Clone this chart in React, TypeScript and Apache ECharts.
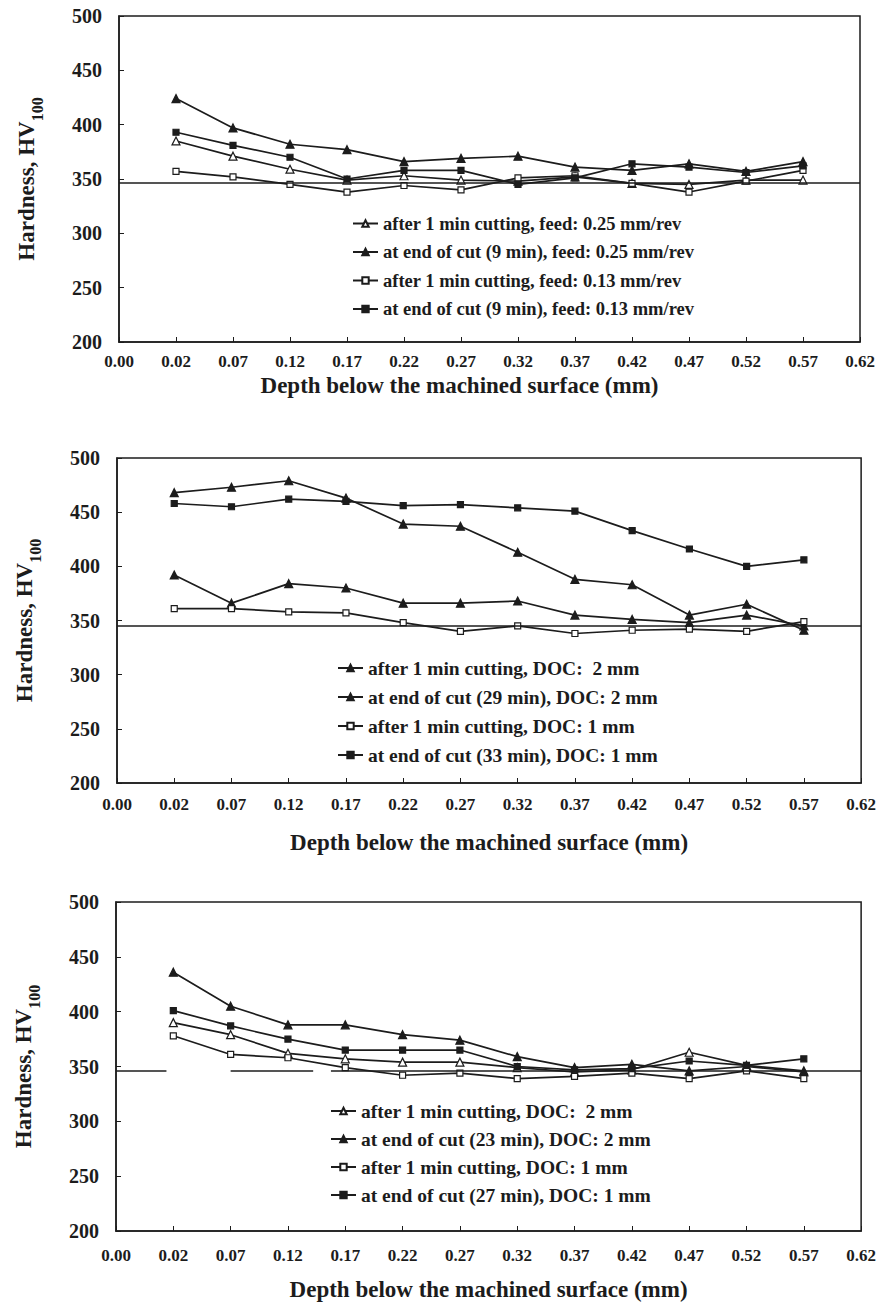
import React, { useEffect, useRef } from "react";
import * as echarts from "echarts";

// Category positions along the depth axis (evenly spaced, measured at 0.02 .. 0.57)
const depthLabels = ["0.00", "0.02", "0.07", "0.12", "0.17", "0.22", "0.27", "0.32", "0.37", "0.42", "0.47", "0.52", "0.57", "0.62"];
const hardnessTicks = [200, 250, 300, 350, 400, 450, 500];

// Panel 1: feed rate comparison
const feed025After1 = [385, 371, 359, 349, 353, 349, 348, 352, 346, 345, 349, 349];
const feed025End9 = [424, 397, 382, 377, 366, 369, 371, 361, 358, 364, 357, 366];
const feed013After1 = [357, 352, 345, 338, 344, 340, 351, 353, 346, 338, 348, 358];
const feed013End9 = [393, 381, 370, 350, 358, 358, 345, 351, 364, 361, 356, 362];

// Panel 2: depth of cut comparison (29 / 33 min)
const doc2After1A = [392, 366, 384, 380, 366, 366, 368, 355, 351, 348, 355, 345];
const doc2End29 = [468, 473, 479, 463, 439, 437, 413, 388, 383, 355, 365, 341];
const doc1After1A = [361, 361, 358, 357, 348, 340, 345, 338, 341, 342, 340, 349];
const doc1End33 = [458, 455, 462, 460, 456, 457, 454, 451, 433, 416, 400, 406];

// Panel 3: depth of cut comparison (23 / 27 min)
const doc2After1B = [390, 379, 362, 357, 354, 354, 349, 345, 347, 363, 351, 346];
const doc2End23 = [436, 405, 388, 388, 379, 374, 359, 349, 352, 346, 350, 345];
const doc1After1B = [378, 361, 358, 349, 342, 344, 339, 341, 344, 339, 346, 339];
const doc1End27 = [401, 387, 375, 365, 365, 365, 350, 347, 348, 355, 351, 357];

// Bulk hardness reference level per panel
const bulkHardness = [347, 345, 346];
// Visible pieces of the reference line in panel 3 (axis positions)
const panel3RefSegments = [[0, 0.88], [2.0, 3.44], [3.75, 13]];

const INK = "#1c1c1c";
const FONT = "'Liberation Serif', 'Times New Roman', serif";

type SeriesDef = { id: string; text: string; values: number[]; symbol: "triangle" | "rect"; filled: boolean };

const panels: { series: SeriesDef[] }[] = [
  {
    series: [
      { id: "p1a", text: "after 1 min cutting, feed: 0.25 mm/rev", values: feed025After1, symbol: "triangle", filled: false },
      { id: "p1b", text: "at end of cut (9 min), feed: 0.25 mm/rev", values: feed025End9, symbol: "triangle", filled: true },
      { id: "p1c", text: "after 1 min cutting, feed: 0.13 mm/rev", values: feed013After1, symbol: "rect", filled: false },
      { id: "p1d", text: "at end of cut (9 min), feed: 0.13 mm/rev", values: feed013End9, symbol: "rect", filled: true },
    ],
  },
  {
    series: [
      { id: "p2a", text: "after 1 min cutting, DOC:  2 mm", values: doc2After1A, symbol: "triangle", filled: true },
      { id: "p2b", text: "at end of cut (29 min), DOC: 2 mm", values: doc2End29, symbol: "triangle", filled: true },
      { id: "p2c", text: "after 1 min cutting, DOC: 1 mm", values: doc1After1A, symbol: "rect", filled: false },
      { id: "p2d", text: "at end of cut (33 min), DOC: 1 mm", values: doc1End33, symbol: "rect", filled: true },
    ],
  },
  {
    series: [
      { id: "p3a", text: "after 1 min cutting, DOC:  2 mm", values: doc2After1B, symbol: "triangle", filled: false },
      { id: "p3b", text: "at end of cut (23 min), DOC: 2 mm", values: doc2End23, symbol: "triangle", filled: true },
      { id: "p3c", text: "after 1 min cutting, DOC: 1 mm", values: doc1After1B, symbol: "rect", filled: false },
      { id: "p3d", text: "at end of cut (27 min), DOC: 1 mm", values: doc1End27, symbol: "rect", filled: true },
    ],
  },
];

const grids = [
  { left: 119, top: 16, width: 741, height: 326 },
  { left: 117, top: 458, width: 745, height: 325 },
  { left: 116, top: 902, width: 746, height: 329 },
];
const labelMargins = [11, 13, 16];
const nameGaps = [32, 48, 47];
// Horizontal nudge of each x-axis title (right padding shifts it left)
const namePadRight = [60, 0, 0];
const legendBoxes = [
  { left: 352, top: 214, itemGap: 9.5, fontSize: 18.5 },
  { left: 337, top: 658, itemGap: 9, fontSize: 19.5 },
  { left: 330, top: 1101, itemGap: 8, fontSize: 19.5 },
];

function buildOption() {
  const textById: Record<string, string> = {};
  const series: any[] = [];
  panels.forEach((panel, p) => {
    panel.series.forEach((s) => {
      textById[s.id] = s.text;
      series.push({
        id: s.id,
        name: s.id,
        type: "line",
        xAxisIndex: p,
        yAxisIndex: p,
        data: s.values.map((v, i) => [i + 1, v]),
        symbol: s.symbol,
        symbolSize: s.symbol === "triangle" ? 8 : 6,
        showSymbol: true,
        lineStyle: { color: INK, width: 1.7 },
        itemStyle: { color: s.filled ? INK : "#ffffff", borderColor: INK, borderWidth: 1.2 },
        z: 3,
      });
    });
    const segs = p === 2 ? panel3RefSegments : [[0, 13]];
    series.push({
      id: "ref" + p,
      type: "line",
      xAxisIndex: p,
      yAxisIndex: p,
      data: [],
      silent: true,
      markLine: {
        silent: true,
        symbol: "none",
        label: { show: false },
        lineStyle: { color: INK, width: 1.5, type: "solid" },
        data: segs.map(([a, b]) => [{ coord: [a, bulkHardness[p]] }, { coord: [b, bulkHardness[p]] }]),
      },
    });
  });

  return {
    animation: false,
    backgroundColor: "#ffffff",
    textStyle: { fontFamily: FONT },
    grid: grids.map((g) => ({ ...g, show: true, borderColor: INK, borderWidth: 1.5, backgroundColor: "transparent" })),
    xAxis: grids.map((_, p) => ({
      type: "value",
      gridIndex: p,
      min: 0,
      max: depthLabels.length - 1,
      interval: 1,
      name: "Depth below the machined surface (mm)",
      nameLocation: "middle",
      nameGap: nameGaps[p],
      nameTextStyle: {
        fontFamily: FONT,
        fontWeight: "bold",
        fontSize: 23,
        color: INK,
        padding: [0, namePadRight[p], 0, 0],
      },
      axisLine: { lineStyle: { color: INK, width: 1.5 } },
      axisTick: { inside: true, length: 5, lineStyle: { color: INK } },
      splitLine: { show: false },
      axisLabel: {
        margin: labelMargins[p],
        fontFamily: FONT,
        fontWeight: "bold",
        fontSize: 17,
        color: INK,
        showMinLabel: true,
        showMaxLabel: true,
        formatter: (v: number) => depthLabels[Math.round(v)] ?? "",
      },
    })),
    yAxis: grids.map((_, p) => ({
      type: "value",
      gridIndex: p,
      min: hardnessTicks[0],
      max: hardnessTicks[hardnessTicks.length - 1],
      interval: 50,
      name: "{a|Hardness, HV}{b|100}",
      nameLocation: "middle",
      nameGap: 74,
      nameRotate: 90,
      nameTextStyle: {
        rich: {
          a: { fontFamily: FONT, fontWeight: "bold", fontSize: 23, color: INK, lineHeight: 30, verticalAlign: "top" },
          b: { fontFamily: FONT, fontWeight: "bold", fontSize: 16, color: INK, lineHeight: 30, verticalAlign: "bottom" },
        },
      },
      axisLine: { show: true, lineStyle: { color: INK, width: 1.5 } },
      axisTick: { show: true, inside: true, length: 5, lineStyle: { color: INK } },
      splitLine: { show: false },
      axisLabel: { margin: 17, fontFamily: FONT, fontWeight: "bold", fontSize: 20, color: INK },
    })),
    legend: panels.map((panel, p) => ({
      orient: "vertical",
      left: legendBoxes[p].left,
      top: legendBoxes[p].top,
      padding: 0,
      itemGap: legendBoxes[p].itemGap,
      itemWidth: 25,
      itemHeight: 8,
      selectedMode: false,
      data: panel.series.map((s) => s.id),
      formatter: (name: string) => textById[name] ?? name,
      textStyle: { fontFamily: FONT, fontWeight: "bold", fontSize: legendBoxes[p].fontSize, color: INK, lineHeight: 18 },
    })),
    series,
  };
}

export default function App() {
  const ref = useRef<HTMLDivElement>(null);
  useEffect(() => {
    if (!ref.current) return;
    const chart = echarts.init(ref.current, undefined, { renderer: "svg" });
    chart.setOption(buildOption() as any);
    return () => chart.dispose();
  }, []);
  return (
    <div
      ref={ref}
      style={{ position: "absolute", left: 0, top: 0, width: 879, height: 1307, background: "#fff" }}
    />
  );
}
